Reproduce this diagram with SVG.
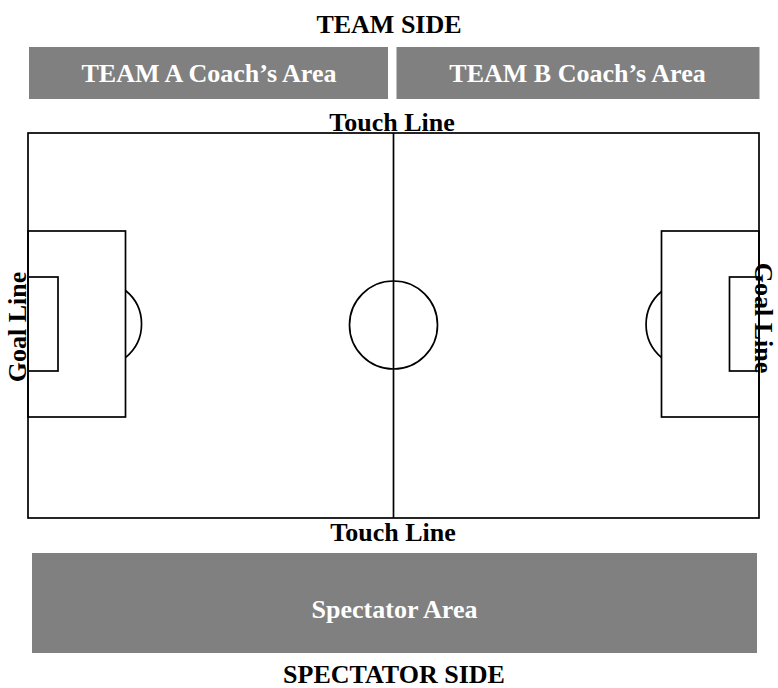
<svg xmlns="http://www.w3.org/2000/svg" width="778" height="688" viewBox="0 0 778 688">
<style>
  .area { fill: #808080; }
  .lbl { font-family: "Liberation Serif", "Times New Roman", serif; font-weight: bold; font-size: 26px; text-anchor: middle; }
  .dark { fill: #000000; }
  .light { fill: #ffffff; }
  .ln { fill: none; stroke: #000000; stroke-width: 1.7; }
</style>
<rect width="778" height="688" fill="#ffffff"/>
<text id="team-side" class="lbl dark" x="389" y="33">TEAM SIDE</text>
<g id="team-a-area">
  <rect class="area" x="29" y="47" width="359" height="52"/>
  <text class="lbl light" x="209" y="82">TEAM A Coach’s Area</text>
</g>
<g id="team-b-area">
  <rect class="area" x="396.5" y="47" width="363" height="52"/>
  <text class="lbl light" x="577.5" y="82">TEAM B Coach’s Area</text>
</g>
<text id="touch-line-top" class="lbl dark" x="392" y="131">Touch Line</text>
<g id="pitch">
  <rect class="ln" x="28" y="133" width="731" height="385"/>
  <line class="ln" x1="393.5" y1="133" x2="393.5" y2="518"/>
  <circle class="ln" cx="393.5" cy="325" r="44"/>
  <rect class="ln" x="28" y="231" width="97.5" height="186"/>
  <rect class="ln" x="28" y="277" width="30" height="94"/>
  <path class="ln" d="M125.5,290.5 A43,43 0 0 1 125.5,357.5"/>
  <rect class="ln" x="661.5" y="231" width="97.5" height="186"/>
  <rect class="ln" x="729.5" y="277" width="29.5" height="94"/>
  <path class="ln" d="M661.5,291.5 A43,43 0 0 0 661.5,357.5"/>
</g>
<text id="goal-line-left" class="lbl dark" transform="translate(26,327) rotate(-90)">Goal Line</text>
<text id="goal-line-right" class="lbl dark" transform="translate(755,318) rotate(90)">Goal Line</text>
<text id="touch-line-bottom" class="lbl dark" x="393" y="541">Touch Line</text>
<g id="spectator-area">
  <rect class="area" x="32" y="553" width="725" height="100"/>
  <text class="lbl light" x="394.5" y="617.5">Spectator Area</text>
</g>
<text id="spectator-side" class="lbl dark" x="394" y="683">SPECTATOR SIDE</text>
</svg>
